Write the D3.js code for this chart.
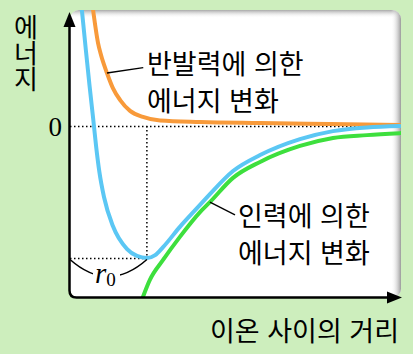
<!DOCTYPE html>
<html lang="ko">
<head>
<meta charset="utf-8" />
<script src="https://d3js.org/d3.v7.min.js"></script>
<style>
  body { margin: 0; background: #cdeebd; }
  .kr { font-family: "Noto Sans CJK KR", sans-serif; font-size: 27px; fill: #000; }
</style>
</head>
<body>
<script>
// energy curves (r and energy in arbitrary units)
var totalR = [0.36, 0.48, 0.59, 0.70, 0.79, 0.89, 1.03, 1.30, 1.73, 2.03, 2.33, 2.58, 2.82, 3.33, 3.94, 4.24, 4.94, 5.76, 6.97, 7.97, 9.00, 10.0];
var totalE = [4.07, 2.67, 1.44, 0.28, -0.70, -1.61, -2.49, -3.51, -4.32, -4.56, -4.63, -4.53, -4.25, -3.54, -2.77, -2.39, -1.58, -1.02, -0.46, -0.18, -0.05, 0.0];

var repR = [0.70, 0.85, 0.94, 1.12, 1.30, 1.52, 1.82, 2.21, 2.73, 3.94, 5.76, 7.88, 10.0];
var repE = [4.07, 2.91, 2.49, 1.86, 1.33, 0.91, 0.53, 0.32, 0.19, 0.14, 0.105, 0.07, 0.035];

var attR = [2.21, 2.42, 2.82, 3.33, 3.94, 4.24, 4.94, 5.76, 6.97, 7.97, 9.00, 10.0];
var attE = [-6.0, -5.40, -4.70, -3.89, -3.02, -2.67, -1.82, -1.26, -0.70, -0.42, -0.32, -0.25];

var r0 = 2.33, eMin = -4.65;
var yTicks = [0];
var labelRep = ["반발력에 의한", "에너지 변화"];
var labelAtt = ["인력에 의한", "에너지 변화"];
var xTitle = "이온 사이의 거리";
var yTitle = "에너지";

var W = 413, H = 354;
var x = d3.scaleLinear().domain([0, 10]).range([70, 400]);
var y = d3.scaleLinear().domain([-6, 4]).range([297, 12]);

var svg = d3.select("body").append("svg").attr("width", W).attr("height", H);
var defs = svg.append("defs");

// panel and its shadow
var gTop = defs.append("linearGradient").attr("id", "gTop").attr("x1", 0).attr("y1", 0).attr("x2", 0).attr("y2", 1);
gTop.append("stop").attr("offset", 0).attr("stop-color", "#a8a8a8");
gTop.append("stop").attr("offset", 1).attr("stop-color", "#fff").attr("stop-opacity", 0);
var gRight = defs.append("linearGradient").attr("id", "gRight").attr("x1", 0).attr("y1", 0).attr("x2", 1).attr("y2", 0);
gRight.append("stop").attr("offset", 0).attr("stop-color", "#fff").attr("stop-opacity", 0);
gRight.append("stop").attr("offset", 1).attr("stop-color", "#9a9a9a");

defs.append("clipPath").attr("id", "panelClip")
  .append("rect").attr("x", 70).attr("y", 10).attr("width", 331).attr("height", 288).attr("rx", 9);

svg.append("rect").attr("x", 70).attr("y", 10).attr("width", 331).attr("height", 288).attr("rx", 9).attr("fill", "#fff");
var sh = svg.append("g").attr("clip-path", "url(#panelClip)");
sh.append("rect").attr("x", 70).attr("y", 10).attr("width", 331).attr("height", 8).attr("fill", "url(#gTop)");
sh.append("rect").attr("x", 391).attr("y", 10).attr("width", 10).attr("height", 288).attr("fill", "url(#gRight)");

// zero line + label with a d3 axis
var yAxis = svg.append("g").attr("transform", "translate(70,0)")
  .call(d3.axisLeft(y).tickValues(yTicks).tickSize(-330).tickPadding(8).tickFormat(d3.format("d")));
yAxis.select(".domain").remove();
yAxis.selectAll(".tick line").attr("stroke", "#000").attr("stroke-width", 1.5).attr("stroke-dasharray", "1.5,2.5");
yAxis.selectAll(".tick text").attr("font-family", "Liberation Serif, serif").attr("font-size", 27).attr("dy", "0.36em");

// r0 guides
var dots = svg.append("g").attr("stroke", "#000").attr("stroke-width", 1.5).attr("stroke-dasharray", "1.5,2.5");
dots.append("line").attr("x1", x(r0)).attr("x2", x(r0)).attr("y1", y(0)).attr("y2", y(eMin));
dots.append("line").attr("x1", x(0)).attr("x2", x(r0)).attr("y1", y(eMin)).attr("y2", y(eMin));

// curves
var line = d3.line().x(function (d) { return x(d[0]); }).y(function (d) { return y(d[1]); }).curve(d3.curveMonotoneX);
var curves = svg.append("g").attr("clip-path", "url(#panelClip)").attr("fill", "none").attr("stroke-width", 4).attr("stroke-linecap", "round");
curves.append("path").attr("d", line(d3.zip(attR, attE))).attr("stroke", "#3ddf3d");
curves.append("path").attr("d", line(d3.zip(repR, repE))).attr("stroke", "#f89a3a");
curves.append("path").attr("d", line(d3.zip(totalR, totalE))).attr("stroke", "#5bc7f4");

// r0 brace
var bx0 = x(0), bx1 = x(r0), by = y(eMin) + 1;
svg.append("path").attr("d", "M" + bx0 + "," + by + "Q" + ((bx0 + bx1) / 2) + "," + (by + 34) + " " + bx1 + "," + by)
  .attr("fill", "none").attr("stroke", "#000").attr("stroke-width", 1.5);
svg.append("rect").attr("x", 93).attr("y", 264).attr("width", 27).attr("height", 26).attr("fill", "#fff");
var rt = svg.append("text").attr("x", 95).attr("y", 283).attr("font-family", "Liberation Serif, serif");
rt.append("tspan").attr("font-style", "italic").attr("font-size", 29).text("r");
rt.append("tspan").attr("font-size", 19).attr("dy", 3).text("0");

// leaders
var lead = svg.append("g").attr("stroke", "#000").attr("stroke-width", 1.3);
lead.append("line").attr("x1", x(1.12)).attr("y1", y(1.86)).attr("x2", x(2.22)).attr("y2", y(2.05));
lead.append("line").attr("x1", x(4.24)).attr("y1", y(-2.67)).attr("x2", x(5.0)).attr("y2", y(-3.12));

// labels
labelRep.forEach(function (t, i) {
  svg.append("text").attr("class", "kr").attr("x", 147).attr("y", 74 + i * 36.5).text(t);
});
labelAtt.forEach(function (t, i) {
  svg.append("text").attr("class", "kr").attr("x", 238).attr("y", 226 + i * 36.5).text(t);
});
svg.append("text").attr("class", "kr").attr("x", 399).attr("y", 341).attr("text-anchor", "end").text(xTitle);
svg.append("text").attr("class", "kr").attr("x", 26).attr("y", 14)
  .style("writing-mode", "vertical-rl").style("text-orientation", "upright")
  .style("font-size", "26px").style("letter-spacing", "0px").text(yTitle);

// axes with rounded corner and arrows
var ax = x(0) - 0.5, ay = y(-6) + 0.5, rc = 7;
svg.append("path")
  .attr("d", "M" + ax + ",22V" + (ay - rc) + "Q" + ax + "," + ay + " " + (ax + rc) + "," + ay + "H392")
  .attr("fill", "none").attr("stroke", "#000").attr("stroke-width", 2.5);
svg.append("path").attr("d", "M" + ax + ",12L" + (ax - 6) + ",27L" + (ax + 6) + ",27Z").attr("fill", "#000");
svg.append("path").attr("d", "M402," + ay + "L387," + (ay - 6) + "L387," + (ay + 6) + "Z").attr("fill", "#000");
</script>
</body>
</html>
